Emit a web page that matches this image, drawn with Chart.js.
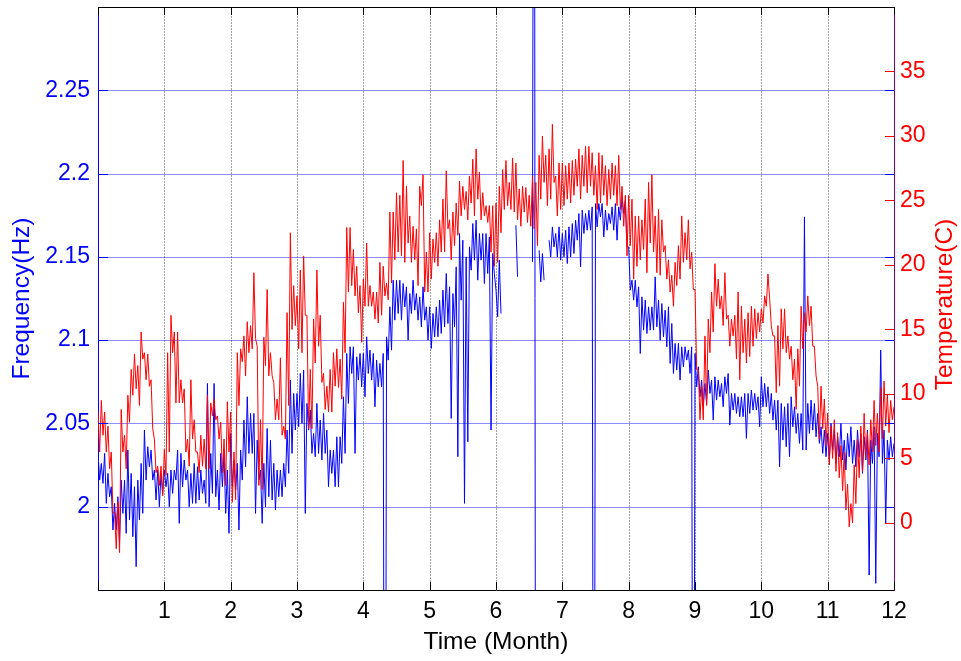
<!DOCTYPE html>
<html>
<head>
<meta charset="utf-8">
<script src="https://cdn.jsdelivr.net/npm/chart.js@4.4.1/dist/chart.umd.min.js"></script>
<style>
html, body { margin: 0; padding: 0; background: #fff; }
#wrap { width: 961px; height: 661px; }
</style>
</head>
<body>
<div id="wrap"><canvas id="chart" width="961" height="661"></canvas></div>
<script>
// tick positions / labels
const monthTicks = [0, 1, 2, 3, 4, 5, 6, 7, 8, 9, 10, 11, 12];
const freqTicks = [2, 2.05, 2.1, 2.15, 2.2, 2.25];
const tempTicks = [0, 5, 10, 15, 20, 25, 30, 35];

// samples every 0.05 month, upper and lower value of each short span
const STEP = 0.05;

const tempHigh = [
    8.6, 9.5, 8.6, 7.5, 5.5, 0.8, 1.6, 8.8, 6.8, 9.9,
    11.9, 13.1, 12.2, 14.8, 13.2, 13.1, 11.1, 6.5, 4.4, 4.4,
    5.7, 13.2, 16.1, 14.8, 14.8, 11.1, 10.4, 6.5, 11.1, 8.0,
    5.5, 6.8, 6.5, 9.9, 9.3, 9.6, 8.3, 7.8, 6.5, 9.4,
    8.6, 5.5, 13.2, 13.5, 14.5, 15.6, 15.3, 19.4, 13.7, 8.0,
    14.4, 18.1, 13.2, 10.9, 9.6, 12.8, 7.5, 16.3, 22.5, 18.4,
    17.6, 19.6, 20.7, 16.1, 11.9, 15.8, 19.6, 16.1, 11.6, 10.6,
    11.9, 13.2, 13.5, 12.7, 17.1, 22.9, 22.9, 21.2, 19.9, 18.4,
    18.9, 21.7, 18.4, 17.9, 17.9, 20.2, 19.9, 18.6, 24.1, 24.1,
    25.6, 25.4, 28.1, 26.1, 23.8, 23.0, 22.8, 26.1, 27.0, 21.0,
    22.5, 22.0, 22.5, 23.5, 25.1, 27.3, 23.5, 24.1, 24.8, 26.5,
    26.1, 25.7, 26.9, 28.2, 29.0, 27.2, 25.6, 24.6, 24.6, 24.6,
    24.8, 26.1, 27.4, 28.1, 26.4, 28.3, 27.9, 25.9, 26.1, 26.0,
    25.4, 26.9, 26.4, 28.5, 30.0, 28.5, 29.0, 30.9, 26.9, 27.9,
    27.9, 27.7, 27.9, 28.1, 28.2, 29.0, 28.5, 29.2, 29.2, 28.7,
    27.7, 28.7, 28.5, 27.7, 27.4, 27.9, 27.7, 28.5, 26.1, 25.4,
    25.4, 25.1, 23.8, 23.8, 23.5, 25.1, 26.4, 27.0, 23.8, 24.3,
    23.5, 21.5, 20.4, 19.2, 20.2, 21.5, 23.8, 22.5, 23.5, 21.0,
    18.1, 11.9, 10.6, 14.5, 15.8, 17.9, 20.1, 18.9, 17.6, 19.4,
    16.1, 15.8, 16.1, 17.9, 16.8, 15.8, 16.3, 16.8, 16.6, 16.3,
    16.6, 17.6, 19.3, 15.3, 14.5, 15.3, 16.6, 16.6, 14.5, 13.7,
    12.7, 13.5, 16.8, 16.3, 17.6, 16.8, 13.7, 10.6, 10.6, 9.6,
    8.5, 7.5, 8.0, 7.0, 6.0, 5.5, 3.0, 1.5, 4.5, 6.5,
    7.5, 8.5, 7.0, 8.0, 9.5, 8.5, 10.5, 11.0, 10.0, 9.5, 9.0
];
const tempLow = [
    5.5, 6.8, 5.5, 4.2, 0.8, -2.0, -2.3, 5.5, 4.2, 7.8,
    9.9, 10.4, 9.1, 12.7, 11.1, 10.6, 7.3, 3.9, 2.9, 2.1,
    3.7, 5.5, 13.2, 9.3, 9.3, 9.3, 5.5, 4.4, 6.5, 5.5,
    3.9, 4.4, 4.2, 4.2, 8.3, 8.0, 6.5, 3.9, 2.9, 5.5,
    1.6, 1.8, 9.1, 12.5, 11.4, 13.2, 13.5, 14.3, 2.9, 2.6,
    12.2, 11.4, 11.4, 8.0, 8.0, 6.8, 6.5, 9.1, 15.0, 15.3,
    13.5, 13.2, 16.1, 7.3, 7.3, 12.4, 13.7, 10.9, 8.8, 8.6,
    8.6, 10.6, 10.5, 9.6, 13.2, 17.9, 18.4, 17.6, 16.3, 14.0,
    16.8, 16.8, 16.8, 15.8, 15.5, 16.1, 17.6, 17.3, 18.6, 20.4,
    21.0, 20.7, 20.2, 21.7, 20.2, 20.4, 18.4, 24.6, 17.9, 17.9,
    18.9, 20.2, 19.9, 21.0, 21.0, 22.8, 20.4, 21.5, 22.3, 23.8,
    24.3, 23.5, 24.8, 23.8, 25.1, 23.5, 23.8, 23.3, 21.0, 19.9,
    20.2, 22.5, 24.3, 24.6, 24.3, 24.1, 23.5, 23.0, 24.1, 23.3,
    23.0, 22.8, 21.5, 25.1, 26.4, 24.6, 25.1, 26.4, 23.8, 24.3,
    24.6, 25.1, 24.8, 25.4, 26.1, 25.1, 26.1, 25.6, 26.1, 25.4,
    24.3, 24.8, 25.4, 24.6, 25.1, 25.4, 24.6, 24.3, 23.0, 20.7,
    21.5, 18.9, 19.9, 20.4, 21.2, 19.4, 21.7, 21.0, 19.4, 19.2,
    21.0, 18.9, 17.9, 16.8, 18.4, 18.9, 20.2, 20.4, 19.7, 18.1,
    11.9, 8.0, 8.0, 9.1, 13.2, 14.8, 16.8, 16.6, 15.3, 15.8,
    13.7, 14.5, 12.7, 11.1, 13.2, 12.4, 12.9, 13.7, 14.3, 14.8,
    15.5, 16.8, 17.4, 14.5, 10.1, 10.6, 13.5, 13.2, 12.7, 11.1,
    8.8, 10.6, 13.5, 14.8, 15.3, 13.7, 11.4, 6.5, 7.3, 6.0,
    4.5, 5.0, 4.0, 3.5, 2.5, 1.0, -0.3, 0.0, 1.5, 3.5,
    4.0, 5.0, 4.5, 5.5, 6.0, 5.5, 6.5, 7.5, 7.0, 8.0, 8.5
];

const freqHigh = [
    2.032, 2.026, 2.032, 2.020, 2.012, 2.002, 2.006, 2.016, 2.016, 2.034,
    2.020, 2.012, 2.016, 2.026, 2.046, 2.036, 2.034, 2.022, 2.022, 2.020,
    2.022, 2.020, 2.022, 2.022, 2.034, 2.032, 2.028, 2.022, 2.020, 2.026,
    2.024, 2.022, 2.016, 2.074, 2.032, 2.074, 2.022, 2.032, 2.032, 2.022,
    2.044, 2.028, 2.026, 2.034, 2.052, 2.066, 2.056, 2.056, 2.040, 2.022,
    2.026, 2.047, 2.040, 2.026, 2.022, 2.022, 2.026, 2.046, 2.076, 2.068,
    2.068, 2.080, 2.082, 2.062, 2.058, 2.044, 2.062, 2.052, 2.056, 2.046,
    2.034, 2.034, 2.042, 2.042, 2.066, 2.092, 2.096, 2.096, 2.090, 2.092,
    2.092, 2.102, 2.094, 2.092, 2.088, 2.086, 2.092, 2.102, 2.120, 2.136,
    2.136, 2.136, 2.134, 2.132, 2.128, 2.136, 2.128, 2.126, 2.132, 2.120,
    2.120, 2.116, 2.120, 2.124, 2.130, 2.140, 2.132, 2.128, 2.144, 2.164,
    2.160, 2.150, 2.156, 2.170, 2.172, 2.164, 2.164, 2.164, 2.162, 2.152,
    2.130, 2.148, null, null, null, null, 2.169, null, null, null,
    null, 2.147, 1.6, 2.154, 2.152, null, 2.160, 2.168, 2.164, 2.168,
    2.164, 2.166, 2.168, 2.170, 2.172, 2.176, 2.178, 2.176, 2.178, 2.180,
    2.182, 2.182, 2.182, 2.178, 2.176, 2.180, 2.182, 2.180, 2.186, 2.184,
    2.156, 2.136, 2.136, 2.132, 2.126, 2.124, 2.120, 2.120, 2.138, 2.124,
    2.122, 2.118, 2.120, 2.110, 2.098, 2.098, 2.096, 2.096, 2.094, 2.096,
    2.092, 2.084, 2.076, 2.074, 2.082, 2.076, 2.078, 2.076, 2.074, 2.078,
    2.080, 2.068, 2.068, 2.066, 2.066, 2.068, 2.068, 2.070, 2.068, 2.066,
    2.078, 2.074, 2.072, 2.068, 2.064, 2.064, 2.062, 2.060, 2.062, 2.066,
    2.060, 2.056, 2.056, 2.174, 2.062, 2.064, 2.062, 2.056, 2.048, 2.046,
    2.044, 2.050, 2.046, 2.042, 2.050, 2.040, 2.044, 2.048, 2.040, 2.046,
    2.044, 2.042, 2.046, 2.040, 2.048, 2.044, 2.094, 2.046, 2.040, 2.042, 2.038
];
const freqLow = [
    2.016, 2.014, 2.002, 2.006, 1.986, 1.986, 1.978, 1.996, 1.984, 1.992,
    1.982, 1.964, 1.992, 1.996, 2.016, 2.024, 2.016, 2.004, 2.000, 2.008,
    2.012, 2.000, 2.008, 2.016, 1.990, 2.012, 2.016, 2.000, 2.002, 2.002,
    2.004, 2.008, 2.002, 2.000, 2.008, 2.006, 1.998, 2.012, 1.996, 1.984,
    2.012, 2.010, 1.986, 2.016, 2.024, 2.032, 2.032, 1.996, 2.016, 1.990,
    2.000, 2.006, 2.004, 1.998, 2.006, 2.006, 2.012, 2.020, 2.032, 2.046,
    2.048, 2.050, 1.996, 2.046, 2.032, 2.030, 2.032, 2.028, 2.032, 2.012,
    2.020, 2.012, 2.012, 2.026, 2.032, 2.062, 2.080, 2.032, 2.076, 2.072,
    2.066, 2.080, 2.076, 2.060, 2.072, 2.072, 1.6, 2.088, 2.094, 2.112,
    2.116, 2.112, 2.120, 2.100, 2.116, 2.118, 2.112, 2.108, 2.112, 2.100,
    2.095, 2.102, 2.102, 2.104, 2.108, 2.110, 2.053, 2.108, 2.030, 2.124,
    2.002, 2.039, 2.142, 2.148, 2.136, 2.148, 2.134, 2.140, 2.046, 2.140,
    2.114, 2.116, null, null, null, null, 2.138, null, null, null,
    null, 2.7, null, 2.135, 2.136, null, 2.150, 2.156, 2.150, 2.148,
    2.150, 2.146, 2.150, 2.152, 2.160, 2.144, 2.164, 2.166, 2.166, 1.6,
    2.168, 2.174, 2.162, 2.166, 2.170, 2.166, 2.160, 2.172, 2.176, 2.156,
    2.130, 2.124, 2.120, 2.092, 2.106, 2.104, 2.106, 2.106, 2.108, 2.100,
    2.102, 2.096, 2.086, 2.080, 2.082, 2.076, 2.084, 2.088, 2.080, 1.6,
    2.072, 2.066, 2.060, 2.062, 2.068, 2.052, 2.064, 2.066, 2.060, 2.068,
    2.049, 2.058, 2.056, 2.054, 2.054, 2.041, 2.056, 2.058, 2.058, 2.048,
    2.060, 2.060, 2.056, 2.052, 2.046, 2.024, 2.040, 2.036, 2.030, 2.048,
    2.044, 2.038, 2.034, 2.034, 2.044, 2.046, 2.042, 2.038, 2.032, 2.030,
    2.028, 2.034, 2.026, 2.030, 2.028, 2.022, 2.030, 2.026, 2.024, 2.030,
    2.020, 2.028, 1.959, 2.026, 1.954, 2.030, 2.026, 1.990, 2.028, 2.030, 2.032
];

if (tempHigh.length !== tempLow.length || freqHigh.length !== freqLow.length || tempHigh.length !== freqHigh.length) {
    throw new Error('length mismatch ' + [tempHigh.length, tempLow.length, freqHigh.length, freqLow.length].join(','));
}

const FONT = '"Liberation Sans", Arial, Helvetica, sans-serif';
const FONT_SIZE = 23;
const TITLE_SIZE = 24.5;

// each span is drawn as high -> low, like the dense raw record
function interleave(hi, lo) {
    const pts = [];
    hi.forEach((h, i) => {
        pts.push({ x: i * STEP, y: h });
        pts.push({ x: i * STEP + STEP / 2, y: lo[i] });
    });
    return pts;
}

const toTicks = values => () => values.map(v => ({ value: v }));

// fixed box sizes so the plot area sits where the original one does
function fixWidth(w) {
    return s => {
        s.width = w;
        s.paddingTop = 0;
        s.paddingBottom = 0;
    };
}

// grid, inner tick marks, top border and the right-hand title
const matlabFrame = {
    id: 'matlabFrame',
    beforeDatasetsDraw(chart) {
        const { ctx, chartArea: a, scales } = chart;
        ctx.save();
        ctx.lineWidth = 1;
        ctx.strokeStyle = 'rgba(0, 0, 255, 0.45)';
        freqTicks.forEach(v => {
            const py = Math.round(scales.y.getPixelForValue(v)) + 0.5;
            ctx.beginPath();
            ctx.moveTo(a.left, py);
            ctx.lineTo(a.right, py);
            ctx.stroke();
        });
        ctx.strokeStyle = 'rgba(70, 70, 70, 0.5)';
        ctx.setLineDash([2, 1]);
        monthTicks.slice(1, -1).forEach(v => {
            const px = Math.round(scales.x.getPixelForValue(v)) + 0.5;
            ctx.beginPath();
            ctx.moveTo(px, a.top);
            ctx.lineTo(px, a.bottom);
            ctx.stroke();
        });
        ctx.restore();
    },
    afterDraw(chart) {
        const { ctx, chartArea: a, scales } = chart;
        ctx.save();
        ctx.lineWidth = 1;

        // top border
        ctx.strokeStyle = '#000';
        ctx.beginPath();
        ctx.moveTo(a.left, a.top + 0.5);
        ctx.lineTo(a.right, a.top + 0.5);
        ctx.stroke();

        // month ticks, top and bottom
        monthTicks.forEach(v => {
            const px = Math.round(scales.x.getPixelForValue(v)) + 0.5;
            ctx.beginPath();
            ctx.moveTo(px, a.bottom);
            ctx.lineTo(px, a.bottom - 8);
            ctx.moveTo(px, a.top);
            ctx.lineTo(px, a.top + 8);
            ctx.stroke();
        });

        // frequency ticks on both sides
        ctx.strokeStyle = '#0000ff';
        freqTicks.forEach(v => {
            const py = Math.round(scales.y.getPixelForValue(v)) + 0.5;
            ctx.beginPath();
            ctx.moveTo(a.left, py);
            ctx.lineTo(a.left + 10, py);
            ctx.moveTo(a.right, py);
            ctx.lineTo(a.right - 9, py);
            ctx.stroke();
        });

        // temperature ticks on the right
        ctx.strokeStyle = '#ff0000';
        tempTicks.forEach(v => {
            const py = Math.round(scales.y2.getPixelForValue(v)) + 0.5;
            ctx.beginPath();
            ctx.moveTo(a.right, py);
            ctx.lineTo(a.right - 9, py);
            ctx.stroke();
        });

        // right title reads bottom to top, as on the left
        ctx.fillStyle = '#ff0000';
        ctx.font = TITLE_SIZE + 'px ' + FONT;
        ctx.textAlign = 'center';
        ctx.textBaseline = 'middle';
        ctx.translate(scales.y2.right - 16, (a.top + a.bottom) / 2 + 6);
        ctx.rotate(-Math.PI / 2);
        ctx.fillText('Temperature(C)', 0, 0);
        ctx.restore();
    }
};

Chart.defaults.font.family = FONT;
Chart.defaults.font.size = FONT_SIZE;

new Chart(document.getElementById('chart'), {
    type: 'line',
    data: {
        datasets: [
            {
                label: 'Temperature',
                data: interleave(tempHigh, tempLow),
                yAxisID: 'y2',
                borderColor: '#ff0000',
                borderWidth: 1,
                pointRadius: 0,
                tension: 0,
                spanGaps: false,
                order: 0
            },
            {
                label: 'Frequency',
                data: interleave(freqHigh, freqLow),
                yAxisID: 'y',
                borderColor: '#0000ff',
                borderWidth: 1,
                pointRadius: 0,
                tension: 0,
                spanGaps: false,
                order: 1
            }
        ]
    },
    options: {
        responsive: false,
        animation: false,
        devicePixelRatio: 1,
        layout: { padding: { top: 7, left: 0, right: 0, bottom: 0 } },
        plugins: {
            legend: { display: false },
            tooltip: { enabled: false }
        },
        scales: {
            x: {
                type: 'linear',
                position: 'bottom',
                min: 0,
                max: 12,
                afterBuildTicks: s => { s.ticks = toTicks(monthTicks)(); },
                afterFit: s => {
                    s.height = 71;
                    s.paddingLeft = 0;
                    s.paddingRight = 0;
                },
                ticks: {
                    color: '#000',
                    padding: 8,
                    autoSkip: false,
                    maxRotation: 0,
                    callback: v => (v === 0 ? '' : v)
                },
                grid: { display: false, drawTicks: false },
                border: { display: true, color: '#000', width: 1 },
                title: {
                    display: true,
                    text: 'Time (Month)',
                    color: '#000',
                    font: { size: TITLE_SIZE },
                    padding: { top: 0, bottom: 4 }
                }
            },
            y: {
                type: 'linear',
                position: 'left',
                min: 1.95,
                max: 2.3,
                afterBuildTicks: s => { s.ticks = toTicks(freqTicks)(); },
                afterFit: fixWidth(98),
                ticks: {
                    color: '#0000ff',
                    padding: 8,
                    autoSkip: false,
                    callback: v => String(+v.toFixed(2))
                },
                grid: { display: false, drawTicks: false },
                border: { display: true, color: '#0000ff', width: 1 },
                title: {
                    display: true,
                    text: 'Frequency(Hz)',
                    color: '#0000ff',
                    font: { size: TITLE_SIZE },
                    padding: { top: 8, bottom: 0 }
                }
            },
            y2: {
                type: 'linear',
                position: 'right',
                min: -5.2,
                max: 40,
                afterBuildTicks: s => { s.ticks = toTicks(tempTicks)(); },
                afterFit: fixWidth(67),
                ticks: {
                    color: '#ff0000',
                    padding: 6,
                    autoSkip: false
                },
                grid: { display: false, drawTicks: false },
                border: { display: true, color: '#800080', width: 1 }
            }
        }
    },
    plugins: [matlabFrame]
});
</script>
</body>
</html>
